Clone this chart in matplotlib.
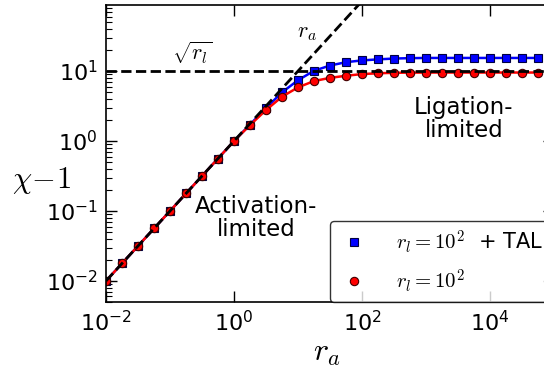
import numpy as np
import matplotlib
matplotlib.use("Agg")
import matplotlib.pyplot as plt

# r_a sampled every quarter decade
ra = 10 ** np.arange(-2, 4.76, 0.25)

chi_tal = [0.01, 0.0178, 0.0316, 0.0562, 0.1, 0.178, 0.316, 0.562, 1.0,
           1.72, 2.96, 4.96, 7.4, 10.1, 12.0, 13.4, 14.2, 14.7, 15.1,
           15.3, 15.4, 15.4, 15.4, 15.4, 15.4, 15.4, 15.4, 15.4]
chi_rl = [0.01, 0.0178, 0.0316, 0.0562, 0.1, 0.178, 0.316, 0.562, 1.0,
          1.69, 2.77, 4.3, 5.85, 7.2, 8.0, 8.57, 9.06, 9.3, 9.45,
          9.5, 9.52, 9.53, 9.53, 9.53, 9.53, 9.53, 9.53, 9.53]

rl = 1e2
xlim = (1e-2, 1e5)
ylim = (5e-3, 88)

W, H = 544, 371
fig = plt.figure(figsize=(W / 100, H / 100), dpi=100)
ax = fig.add_axes([106/W, 69/H, 448/W, 297/H])

ax.plot(ra, chi_tal, color="#0000ff", lw=1.8, marker="s", ms=6,
        mfc="#0000ff", mec="#000040", mew=0.8, zorder=2)
ax.plot(ra, chi_rl, color="#ff0000", lw=1.8, marker="o", ms=6,
        mfc="#ff0000", mec="#400000", mew=0.8, zorder=2)

# asymptotes
ax.plot(xlim, [np.sqrt(rl)] * 2, "k--", lw=2, zorder=3)
ax.plot(xlim, xlim, "k--", lw=2, zorder=3)

ax.set_xscale("log")
ax.set_yscale("log")
ax.set_xlim(*xlim)
ax.set_ylim(*ylim)
ax.set_xticks([1e-2, 1e0, 1e2, 1e4])
ax.set_yticks([1e-2, 1e-1, 1e0, 1e1])

ax.tick_params(which="both", direction="in", top=True, right=True)
ax.tick_params(which="major", length=8, width=1, labelsize=16, pad=6)
ax.tick_params(which="minor", length=4, width=0.8)
for s in ax.spines.values():
    s.set_linewidth(1.2)

ax.set_xlabel(r"$r_a$", fontsize=23, math_fontfamily="cm", va="center")
ax.xaxis.set_label_coords((327 - 106) / 448, -(352 - 302) / 297)
ax.set_ylabel(r"$\chi\!-\!1$", fontsize=22, math_fontfamily="cm",
              rotation=0, va="center", ha="center")
ax.yaxis.set_label_coords((42 - 106) / 448, (302 - 180) / 297)

fig.text(192/W, 1 - 53/H, r"$\sqrt{r_l}$", fontsize=16,
         math_fontfamily="cm", ha="center", va="center")
fig.text(307/W, 1 - 33/H, r"$r_a$", fontsize=16,
         math_fontfamily="cm", ha="center", va="center")

fig.text(256/W, 1 - 218/H, "Activation-\nlimited", fontsize=16.5,
         ha="center", va="center", multialignment="center", linespacing=1.0)
fig.text(464/W, 1 - 119/H, "Ligation-\nlimited", fontsize=16.5,
         ha="center", va="center", multialignment="center", linespacing=1.0)

h1 = plt.Line2D([], [], ls="none", marker="s", ms=6, mfc="#0000ff",
                mec="#000040", mew=0.8)
h2 = plt.Line2D([], [], ls="none", marker="o", ms=6, mfc="#ff0000",
                mec="#400000", mew=0.8)
leg = ax.legend([h1, h2], [r"$r_l=10^2$  + TAL", r"$r_l=10^2$"],
                loc="lower left", bbox_to_anchor=((330 - 106) / 448, 0.0),
                borderaxespad=0, numpoints=1, handlelength=1.6,
                handletextpad=1.2, labelspacing=0.55, borderpad=0.35,
                fancybox=True, prop={"size": 15, "math_fontfamily": "cm"})
leg.get_frame().set_edgecolor("black")
leg.get_frame().set_linewidth(1.0)

fig.savefig("out.png", dpi=100)
